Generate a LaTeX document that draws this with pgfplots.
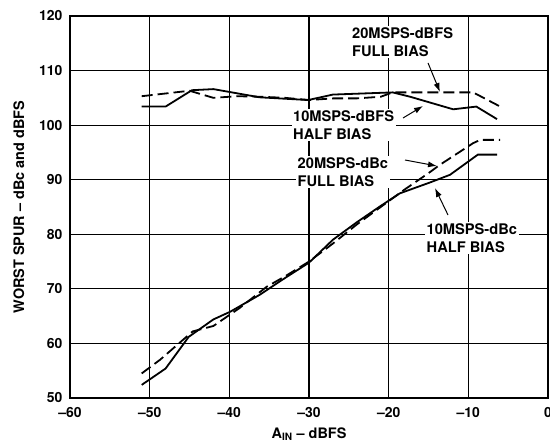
\documentclass[border=0pt]{standalone}
\usepackage{fontspec}
\setmainfont{TeX Gyre Heros}
\usepackage{pgfplots}
\pgfplotsset{compat=1.18}
\usetikzlibrary{arrows.meta}
\pgfplotstableread{
x y
-51 105.3
-48 105.8
-45 106.3
-42 105.0
-39 105.3
-36 105.2
-33 105.0
-30 104.6
-27 104.9
-24 104.9
-21 105.2
-19.5 106.0
-15 106.0
-9.4 106.0
-6 103.4
}\fullbiasdbfs
\pgfplotstableread{
x y
-51 103.4
-48 103.4
-44.7 106.4
-42 106.6
-36.2 105.1
-30.1 104.6
-27 105.6
-19.5 106.0
-17.3 105.2
-11.9 102.9
-9 103.4
-6.4 101.1
}\halfbiasdbfs
\pgfplotstableread{
x y
-51 54.5
-48.7 57.0
-44.6 62.2
-42 63.2
-38.7 66.5
-35.3 70.4
-33 72.3
-30 75.0
-27 78.3
-24 81.8
-21 85.0
-18 88.2
-15 91.2
-13.6 92.7
-9.4 96.7
-8.5 97.3
-6 97.3
}\fullbiasdbc
\pgfplotstableread{
x y
-51 52.4
-48 55.4
-45.1 61.2
-42 64.4
-39.9 65.8
-36.2 68.9
-33 72.0
-30 74.8
-27 79.0
-24 82.2
-21.1 85.1
-18.6 87.5
-14.8 89.5
-12.3 90.9
-8.8 94.6
-6.4 94.6
}\halfbiasdbc
\begin{document}
\begin{tikzpicture}[x=1bp,y=1bp,
  lbl/.style={fill=white, inner sep=1.5bp, align=left, anchor=north west,
    font=\fontsize{14.7}{17.7}\selectfont\bfseries},
  arr/.style={black, line width=1bp, -{Latex[length=9bp,width=6bp]}},
  crv/.style={black, line width=1.8bp, no markers},
  dsh/.style={black, line width=1.8bp, no markers, dash pattern=on 11bp off 5bp}]
\begin{axis}[
  at={(0,0)}, anchor=south west,
  scale only axis, width=478bp, height=382bp,
  xmin=-60, xmax=0, ymin=50, ymax=120,
  xtick={-60,-50,...,0},
  xticklabels={–60,–50,–40,–30,–20,–10,0},
  ytick={50,60,...,120},
  grid=major,
  grid style={black, line width=1.2bp},
  major tick length=0pt,
  axis line style={line width=1.8bp},
  /pgf/number format/assume math mode=true,
  tick label style={font=\fontsize{14}{16}\selectfont\bfseries},
  yticklabel style={xshift=-4bp},
  xticklabel style={yshift=-6bp},
  label style={font=\fontsize{14.5}{17}\selectfont\bfseries},
  xlabel style={yshift=-3bp},
  ylabel style={yshift=8bp},
  ylabel={WORST SPUR – dBc and dBFS},
  xlabel={A\textsubscript{IN} – dBFS},
]
\addplot[dsh] table {\fullbiasdbfs};
\addplot[crv] table {\halfbiasdbfs};
\addplot[dsh] table {\fullbiasdbc};
\addplot[crv] table {\halfbiasdbc};
\node[lbl] at (axis cs:-24.8,118.17) {20MSPS-dBFS\\FULL BIAS};
\node[lbl] at (axis cs:-32.2,102.96) {10MSPS-dBFS\\HALF BIAS};
\node[lbl] at (axis cs:-31.63,94.34) {20MSPS-dBc\\FULL BIAS};
\node[lbl] at (axis cs:-15.44,82.25) {10MSPS-dBc\\HALF BIAS};
\draw[arr] (axis cs:-15.06,111.39) -- (axis cs:-13.56,106.07);
\draw[arr] (axis cs:-18.2,101.31) -- (axis cs:-15.69,103.51);
\draw[arr] (axis cs:-17.95,93.61) -- (axis cs:-13.93,92.51);
\draw[arr] (axis cs:-12.55,83.53) -- (axis cs:-14.19,88.48);
\end{axis}
\pgfresetboundingbox
\path[use as bounding box] (-70,-45) rectangle (480,398);
\end{tikzpicture}
\end{document}
